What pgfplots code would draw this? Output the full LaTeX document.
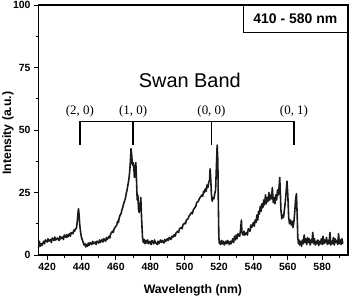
\documentclass[border=0pt]{standalone}
\usepackage{pgfplots}
\pgfplotsset{compat=1.18}
\usepackage{fontspec}
\setmainfont{Liberation Sans}
\newfontfamily\timesf{Liberation Serif}
\definecolor{spec}{HTML}{1A1A1A}
\begin{document}
\begin{tikzpicture}
\begin{axis}[
 scale only axis, width=309.5bp, height=250bp,
 xmin=415, xmax=595, ymin=0, ymax=100,
 xtick={420,440,...,580}, minor xtick={430,450,...,590},
 ytick={0,25,50,75,100}, minor ytick={12.5,37.5,62.5,87.5},
 tick align=outside, xtick pos=bottom, ytick pos=left,
 major tick length=4.5bp, minor tick length=2.8bp,
 axis line style={line width=1.3pt},
 every tick/.style={line width=1pt, black},
 /pgf/number format/assume math mode=true,
 tick label style={font=\fontsize{10.5}{12}\selectfont\bfseries},
 xlabel={Wavelength (nm)}, ylabel={Intensity (a.u.)},
 label style={font=\fontsize{12.3}{14}\selectfont\bfseries},
 xlabel style={at={(axis description cs:0.499,-0.14)}, anchor=center},
 ylabel style={at={(axis description cs:-0.0985,0.487)}, anchor=center},
 clip=false,
]
\addplot[spec, line width=1.6pt, line join=round] coordinates {
(415,3) (415.5,5.5) (416,3.5) (416.5,4.5) (417,3.8) (418,5.5) (418.5,4.5) (419,6) (420,5.2) (420.5,6.5)
(421,5.5) (422,6.2) (422.5,5) (423,6.8) (424,5.8) (424.5,7.2) (425,6) (426,6.8) (427,5.8) (427.5,7.5)
(428,6.5) (429,7.2) (429.5,6.2) (430,8) (431,7) (431.5,8.2) (432,7.2) (433,8.5) (433.5,7.5) (434,9)
(435,8.5) (435.5,10) (436,9.5) (436.5,10.5) (437,10.5) (437.5,13) (438,17) (438.3,18.5) (438.6,16) (439,12)
(439.5,9) (440,7) (440.5,6) (441,5) (441.5,4) (442,4.5) (442.5,3.2) (443,4.2) (443.5,3.5) (444,4.8)
(444.5,3.8) (445,5) (446,4.2) (446.5,5.5) (447,4.5) (448,5.2) (448.5,4.2) (449,5.5) (450,4.8) (450.5,6)
(451,5) (452,6.2) (452.5,5.2) (453,6.5) (454,5.5) (454.5,7) (455,6.2) (456,7.5) (456.5,6.8) (457,8.5)
(458,9.5) (458.5,9) (459,10.5) (460,11.5) (460.5,12) (461,13.5) (461.5,13) (462,15) (462.5,16) (463,16.5)
(463.5,18) (464,19) (464.5,20.5) (465,21.5) (465.5,22.5) (466,24.5) (466.5,26) (467,28) (467.5,30) (468,33)
(468.5,38) (468.8,42.5) (469.2,40) (469.6,36) (470,37) (470.4,35) (470.8,31) (471.2,35) (471.6,37) (472,30)
(472.4,22) (472.8,24) (473.2,18) (473.6,17) (474,19) (474.5,23) (475,14) (475.5,7) (476,5) (476.5,6.2)
(477,4.5) (477.5,5.8) (478,4.8) (478.5,6) (479,4.5) (480,5.5) (480.5,4.2) (481,5.8) (482,4.5) (482.5,6)
(483,5) (484,4.2) (484.5,5.5) (485,4.5) (486,6) (486.5,5) (487,5.8) (488,4.8) (488.5,6.2) (489,5.5)
(490,6.5) (490.5,5.8) (491,7) (492,6.2) (492.5,7.5) (493,7) (494,8.2) (494.5,7.5) (495,8.8) (496,9.5)
(496.5,9) (497,10.5) (498,11) (498.5,10.5) (499,12) (500,12.8) (500.5,12.5) (501,14) (502,14.5) (502.5,15.5)
(503,16) (504,17) (504.5,16.5) (505,18) (506,19) (506.5,19.5) (507,21) (508,21.5) (508.5,22.5) (509,23)
(510,24) (510.5,23.5) (511,25.5) (511.5,25) (512,26.5) (512.5,25.5) (513,28) (513.5,27) (514,29) (514.5,30)
(514.8,34.5) (515.2,30) (515.6,24) (516,21.5) (516.5,23) (517,22.5) (517.5,24.5) (518,26) (518.5,36) (518.9,44)
(519.3,38) (519.6,20) (519.9,7) (520.2,4.5) (520.5,5.5) (521,4.2) (521.5,5.8) (522,4.5) (522.5,5.5) (523,4)
(524,5.5) (524.5,4.5) (525,5.8) (526,4.2) (526.5,5.5) (527,4.5) (528,6.5) (528.5,5) (529,7.5) (529.5,6)
(530,8) (530.5,6.5) (531,8.5) (532,7.5) (532.5,10) (533,14) (533.3,9) (534,8) (534.5,9.5) (535,8)
(536,9) (536.5,8) (537,10.5) (538,9.5) (538.5,12) (539,11) (540,13) (540.5,11.5) (541,14) (541.5,13)
(542,16) (542.5,14) (543,17.5) (543.5,16.5) (544,19.5) (544.5,17.5) (545,20.5) (545.5,19) (546,22) (546.5,20)
(547,24) (547.5,20.5) (548,23) (548.5,21.5) (549,25) (549.5,22) (550,24) (550.5,22.5) (551,27) (551.5,21)
(552,23) (552.5,20.5) (553,24) (553.5,22) (554,26) (554.5,24) (555,28) (555.3,31) (555.7,24) (556,18)
(556.5,14.5) (557,16) (557.5,15) (558,18) (558.5,21) (559,25) (559.5,29.5) (560,24) (560.5,15) (561,12.5)
(561.5,14) (562,12) (562.5,13.5) (563,11) (563.5,13) (564,17) (564.5,22) (565,24.5) (565.4,17) (565.8,7)
(566.2,4.5) (566.5,6) (567,4) (567.5,5.5) (568,3.5) (568.5,6) (569,4.5) (569.5,8) (570,5) (570.5,6.5)
(571,4.2) (571.5,7) (572,5) (572.5,6.5) (573,4) (573.5,6) (574,5) (574.5,9) (575,4.5) (575.5,6.5)
(576,4) (576.5,5.5) (577,4.5) (577.5,6) (578,3.8) (578.5,5.5) (579,4.5) (579.5,6.5) (580,4.2) (580.5,7.5)
(581,4.5) (581.5,6) (582,5) (582.5,7) (583,4.2) (583.5,5.8) (584,4.5) (584.5,9) (585,4) (585.5,5.5)
(586,4.5) (586.5,7) (587,4) (587.5,6.5) (588,5) (588.5,5.8) (589,4.2) (589.5,8.5) (590,4.5) (590.5,6)
(591,4.2) (591.5,6.5) (592,4.5)
};
% bracket annotation
\draw[line width=1.2pt] (axis cs:439.1,44) -- (axis cs:439.1,53.3) -- (axis cs:563.6,53.3) -- (axis cs:563.6,44);
\draw[line width=1.2pt] (axis cs:470,53.3) -- (axis cs:470,44);
\draw[line width=1.2pt] (axis cs:515.6,53.3) -- (axis cs:515.6,44);
\node[font=\timesf\fontsize{13}{15}\selectfont] at (axis cs:439.1,57.3) {(2, 0)};
\node[font=\timesf\fontsize{13}{15}\selectfont] at (axis cs:470,57.3) {(1, 0)};
\node[font=\timesf\fontsize{13}{15}\selectfont] at (axis cs:515.6,57.3) {(0, 0)};
\node[font=\timesf\fontsize{13}{15}\selectfont] at (axis cs:563.6,57.3) {(0, 1)};
\node[font=\fontsize{20}{24}\selectfont] at (axis cs:503,70) {Swan Band};
\node[draw, line width=0.6pt, anchor=north east, minimum width=104.7bp, minimum height=27bp, inner sep=0pt,
 font=\fontsize{14}{16}\selectfont\bfseries, fill=white] at (rel axis cs:1,1) {410 - 580 nm};
\end{axis}
\pgfresetboundingbox
\path (-38.5bp,-44bp) rectangle (311.5bp,255bp);
\end{tikzpicture}
\end{document}
